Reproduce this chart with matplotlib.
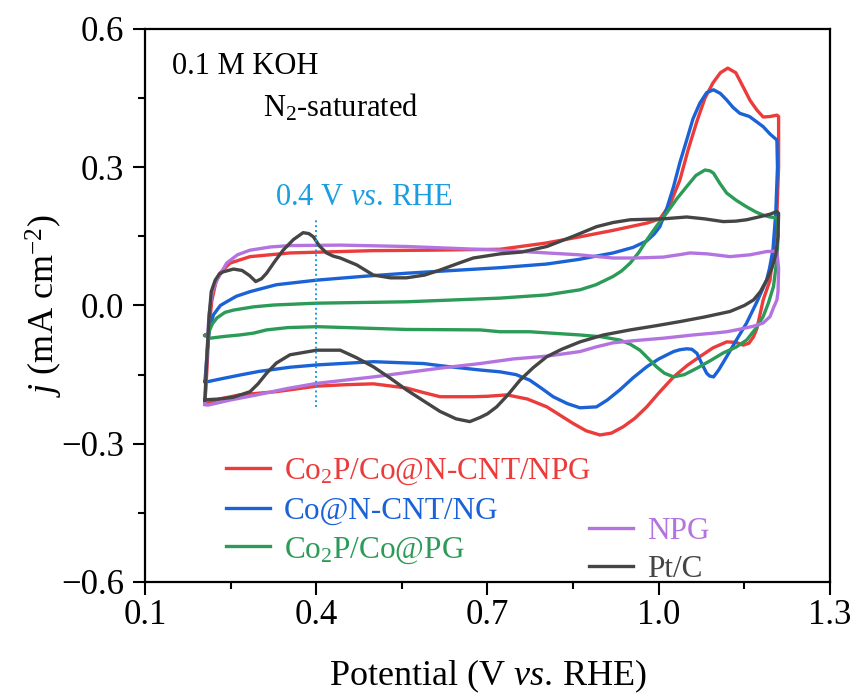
import matplotlib
matplotlib.use("Agg")
import matplotlib.pyplot as plt
from matplotlib.ticker import FixedLocator, FuncFormatter

plt.rcParams['font.family'] = ['Liberation Serif', 'DejaVu Serif']
plt.rcParams['mathtext.fontset'] = 'custom'
plt.rcParams['mathtext.rm'] = 'Liberation Serif'
plt.rcParams['mathtext.it'] = 'Liberation Serif:italic'
plt.rcParams['mathtext.default'] = 'regular'

# CV loops in N2-saturated 0.1 M KOH (potential in V vs. RHE, j in mA cm-2)
labels = ['Co$_2$P/Co@N-CNT/NPG', 'Co@N-CNT/NG', 'Co$_2$P/Co@PG', 'NPG', 'Pt/C']
colors = ['#ec3b3b', '#1a62d6', '#2b9b57', '#b474e0', '#454545']

e_red = [0.205, 0.208, 0.212, 0.217, 0.224, 0.231, 0.249, 0.284, 0.354, 0.5, 0.6, 0.722,
         0.8, 0.862, 0.92, 0.98, 1.002, 1.02, 1.037, 1.052, 1.067, 1.081, 1.095, 1.108,
         1.121, 1.135, 1.148, 1.16, 1.172, 1.183, 1.195, 1.207, 1.21,
         1.21, 1.207, 1.201, 1.195, 1.183, 1.172, 1.166, 1.158, 1.148, 1.135, 1.119,
         1.095, 1.072, 1.05, 1.026, 1.0, 0.979, 0.958, 0.938, 0.917, 0.897, 0.873, 0.85,
         0.827, 0.804, 0.77, 0.734, 0.7, 0.675, 0.617, 0.588, 0.558, 0.5, 0.45, 0.401,
         0.33, 0.266, 0.23, 0.21, 0.205]
j_red = [-0.21, -0.15, -0.05, 0.01, 0.05, 0.07, 0.092, 0.106, 0.114, 0.119, 0.12, 0.122,
         0.135, 0.149, 0.163, 0.179, 0.188, 0.22, 0.272, 0.34, 0.4, 0.45, 0.483, 0.505,
         0.515, 0.505, 0.474, 0.445, 0.424, 0.409, 0.41, 0.413, 0.41,
         0.3, 0.2, 0.12, 0.055, 0.012, -0.05, -0.068, -0.082, -0.086, -0.08, -0.079,
         -0.092, -0.111, -0.13, -0.155, -0.19, -0.22, -0.245, -0.263, -0.277, -0.281,
         -0.272, -0.256, -0.238, -0.22, -0.203, -0.194, -0.197, -0.198, -0.198, -0.189,
         -0.179, -0.17, -0.172, -0.175, -0.187, -0.194, -0.203, -0.212, -0.21]

e_blue = [0.205, 0.209, 0.213, 0.22, 0.232, 0.243, 0.26, 0.284, 0.33, 0.401, 0.48, 0.558,
          0.64, 0.722, 0.804, 0.86, 0.92, 0.955, 0.979, 0.992, 1.002, 1.014, 1.026, 1.037,
          1.049, 1.06, 1.072, 1.084, 1.096, 1.108, 1.119, 1.13, 1.142, 1.159, 1.17, 1.183,
          1.195, 1.207, 1.208,
          1.205, 1.2, 1.194, 1.189, 1.172, 1.154, 1.136, 1.119, 1.105, 1.096, 1.089, 1.084,
          1.075, 1.067, 1.058, 1.049, 1.037, 1.026, 1.0, 0.979, 0.955, 0.932, 0.91, 0.891,
          0.862, 0.84, 0.815, 0.795, 0.774, 0.75, 0.722, 0.687, 0.62, 0.588, 0.5, 0.401,
          0.354, 0.3, 0.266, 0.23, 0.211, 0.205]
j_blue = [-0.165, -0.1, -0.05, -0.02, 0.0, 0.008, 0.02, 0.03, 0.045, 0.055, 0.063, 0.07,
          0.076, 0.082, 0.09, 0.1, 0.114, 0.126, 0.14, 0.155, 0.171, 0.21, 0.258, 0.31,
          0.359, 0.405, 0.439, 0.462, 0.468, 0.46, 0.446, 0.43, 0.417, 0.41, 0.4, 0.388,
          0.372, 0.359, 0.3,
          0.2, 0.12, 0.08, 0.055, 0.008, -0.038, -0.075, -0.111, -0.14, -0.155, -0.153,
          -0.147, -0.125, -0.104, -0.095, -0.094, -0.096, -0.1, -0.116, -0.133, -0.157,
          -0.183, -0.205, -0.22, -0.222, -0.213, -0.198, -0.18, -0.162, -0.15, -0.144,
          -0.14, -0.131, -0.126, -0.122, -0.129, -0.134, -0.143, -0.151, -0.16, -0.165,
          -0.165]

e_green = [0.205, 0.211, 0.218, 0.226, 0.24, 0.255, 0.29, 0.325, 0.401, 0.558, 0.64, 0.722,
           0.804, 0.862, 0.89, 0.92, 0.935, 0.95, 0.965, 0.979, 0.996, 1.014, 1.032, 1.049,
           1.065, 1.081, 1.09, 1.096, 1.107, 1.119, 1.136, 1.154, 1.17, 1.183, 1.195, 1.207,
           1.209,
           1.207, 1.201, 1.192, 1.183, 1.17, 1.154, 1.136, 1.113, 1.09, 1.067, 1.045, 1.026,
           1.01, 0.996, 0.98, 0.967, 0.95, 0.932, 0.9, 0.862, 0.774, 0.722, 0.687, 0.558,
           0.48, 0.401, 0.35, 0.313, 0.29, 0.266, 0.24, 0.214, 0.205]
j_green = [-0.065, -0.06, -0.04, -0.027, -0.015, -0.01, -0.003, 0.001, 0.005, 0.008, 0.012,
           0.016, 0.023, 0.034, 0.045, 0.063, 0.075, 0.092, 0.115, 0.142, 0.172, 0.201,
           0.232, 0.258, 0.282, 0.294, 0.292, 0.287, 0.265, 0.244, 0.228, 0.214, 0.203,
           0.196, 0.192, 0.19, 0.15,
           0.1, 0.041, 0.005, -0.024, -0.05, -0.075, -0.09, -0.103, -0.12, -0.136, -0.15,
           -0.155, -0.147, -0.133, -0.113, -0.097, -0.084, -0.075, -0.068, -0.064, -0.057,
           -0.057, -0.053, -0.052, -0.049, -0.046, -0.048, -0.053, -0.06, -0.064, -0.067,
           -0.071, -0.065]

e_npg = [0.205, 0.208, 0.212, 0.218, 0.226, 0.243, 0.262, 0.284, 0.32, 0.354, 0.442, 0.558,
         0.64, 0.722, 0.804, 0.86, 0.92, 0.96, 1.008, 1.035, 1.055, 1.085, 1.125, 1.16,
         1.189, 1.207,
         1.21, 1.209, 1.207, 1.201, 1.195, 1.183, 1.166, 1.14, 1.119, 1.096, 1.06, 1.008,
         0.96, 0.92, 0.89, 0.862, 0.804, 0.745, 0.687, 0.617, 0.5, 0.401, 0.35, 0.296,
         0.25, 0.211, 0.205]
j_npg = [-0.215, -0.12, -0.02, 0.03, 0.055, 0.092, 0.11, 0.12, 0.127, 0.13, 0.131, 0.128,
         0.124, 0.12, 0.114, 0.11, 0.103, 0.103, 0.105, 0.11, 0.114, 0.112, 0.106, 0.11,
         0.117, 0.118,
         0.08, 0.03, 0.012, -0.005, -0.024, -0.038, -0.045, -0.052, -0.057, -0.06, -0.064,
         -0.071, -0.076, -0.081, -0.09, -0.1, -0.11, -0.116, -0.126, -0.136, -0.155,
         -0.169, -0.18, -0.194, -0.205, -0.216, -0.215]

e_ptc = [0.205, 0.208, 0.212, 0.216, 0.223, 0.23, 0.237, 0.255, 0.27, 0.283, 0.294, 0.304,
         0.313, 0.327, 0.342, 0.36, 0.377, 0.387, 0.395, 0.405, 0.418, 0.43, 0.442, 0.471,
         0.5, 0.53, 0.558, 0.59, 0.617, 0.65, 0.675, 0.722, 0.76, 0.804, 0.85, 0.891, 0.92,
         0.95, 1.008, 1.049, 1.08, 1.113, 1.135, 1.154, 1.175, 1.195, 1.207, 1.21,
         1.209, 1.205, 1.198, 1.189, 1.178, 1.166, 1.15, 1.125, 1.08, 1.037, 0.995, 0.95,
         0.903, 0.862, 0.83, 0.804, 0.78, 0.757, 0.735, 0.716, 0.7, 0.687, 0.669, 0.645,
         0.617, 0.588, 0.558, 0.53, 0.5, 0.47, 0.442, 0.401, 0.354, 0.33, 0.313, 0.298,
         0.284, 0.255, 0.23, 0.214, 0.205]
j_ptc = [-0.205, -0.12, -0.03, 0.03, 0.055, 0.068, 0.073, 0.079, 0.076, 0.065, 0.052, 0.058,
         0.07, 0.095, 0.12, 0.143, 0.158, 0.156, 0.149, 0.13, 0.114, 0.107, 0.103, 0.088,
         0.066, 0.06, 0.06, 0.066, 0.077, 0.092, 0.103, 0.112, 0.116, 0.128, 0.15, 0.171,
         0.18, 0.186, 0.188, 0.192, 0.188, 0.182, 0.183, 0.186, 0.192, 0.198, 0.204, 0.2,
         0.15, 0.11, 0.08, 0.055, 0.03, 0.012, 0.0, -0.013, -0.025, -0.035, -0.044, -0.053,
         -0.064, -0.079, -0.095, -0.111, -0.135, -0.162, -0.195, -0.22, -0.235, -0.243,
         -0.252, -0.246, -0.23, -0.207, -0.183, -0.158, -0.133, -0.113, -0.097, -0.097,
         -0.107, -0.125, -0.147, -0.17, -0.187, -0.199, -0.203, -0.204, -0.205]

x_ticks = [0.1, 0.4, 0.7, 1.0, 1.3]
x_minor = [0.25, 0.55, 0.85, 1.15]
y_ticks = [-0.6, -0.3, 0.0, 0.3, 0.6]
y_minor = [-0.45, -0.15, 0.15, 0.45]

marker_potential = 0.4
marker_span = [-0.22, 0.19]

fig = plt.figure(figsize=(8.56, 6.98), dpi=100)
ax = fig.add_axes([0.1694, 0.1662, 0.8002, 0.7923])

curves = [(e_red, j_red), (e_blue, j_blue), (e_green, j_green), (e_npg, j_npg), (e_ptc, j_ptc)]
lines = []
for (e, j), lab, c in zip(curves, labels, colors):
    ln, = ax.plot(e, j, color=c, lw=2.4, label=lab, solid_joinstyle='round')
    lines.append(ln)

# dotted guide at 0.4 V
ax.plot([marker_potential, marker_potential], marker_span, color='#1b9ee0', lw=1.4,
        linestyle=(0, (1, 1.5)))
ax.text(0.328, 0.218, '0.4 V $\\mathit{vs.}\\,$RHE', color='#1b9ee0', fontsize=22,
        ha='left', va='baseline')

ax.text(0.147, 0.503, '0.1 M KOH', fontsize=22, ha='left', va='baseline')
ax.text(0.307, 0.409, 'N$_2$-saturated', fontsize=22, ha='left', va='baseline')

ax.set_xlim(0.1, 1.3)
ax.set_ylim(-0.6, 0.6)
ax.xaxis.set_major_locator(FixedLocator(x_ticks))
ax.xaxis.set_minor_locator(FixedLocator(x_minor))
ax.yaxis.set_major_locator(FixedLocator(y_ticks))
ax.yaxis.set_minor_locator(FixedLocator(y_minor))
fmt = FuncFormatter(lambda v, p: ('\u2212%.1f' % abs(v)) if v < -1e-9 else '%.1f' % abs(v))
ax.xaxis.set_major_formatter(fmt)
ax.yaxis.set_major_formatter(fmt)
ax.tick_params(which='both', direction='out', width=1.5, labelsize=25,
               top=False, right=False)
ax.tick_params(axis='x', pad=3)
ax.tick_params(axis='y', pad=6)
ax.tick_params(which='major', length=9)
ax.tick_params(which='minor', length=5)
for s in ax.spines.values():
    s.set_linewidth(1.6)

ax.set_xlabel('Potential (V $\\mathit{vs.}\\,$RHE)', fontsize=26, labelpad=19)
ax.set_ylabel('$\\mathit{j}$ (mA cm$^{-2}$)', fontsize=26, labelpad=-3)

leg_kw = dict(frameon=False, fontsize=22.5, handlelength=1.4, handletextpad=0.45,
              labelspacing=0.3, borderpad=0, borderaxespad=0, labelcolor='linecolor')
leg1 = ax.legend(handles=lines[:3], loc='upper left', bbox_to_anchor=(0.118, 0.226), **leg_kw)
ax.add_artist(leg1)
ax.legend(handles=lines[3:], loc='upper left', bbox_to_anchor=(0.648, 0.118), **leg_kw)

fig.savefig('out.png', dpi=100)
